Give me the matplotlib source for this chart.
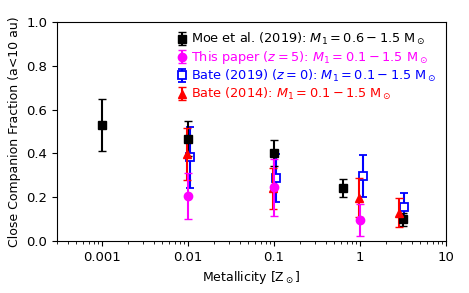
import matplotlib
matplotlib.use("Agg")
import matplotlib.pyplot as plt

# Moe et al. (2019)
moe_x = [0.001, 0.01, 0.1, 0.63, 3.2]
moe_y = [0.53, 0.467, 0.403, 0.243, 0.100]
moe_e = [0.12, 0.08, 0.06, 0.04, 0.03]

# This paper (z=5)
tp_x = [0.01, 0.1, 1.0]
tp_y = [0.207, 0.245, 0.096]
tp_e = [0.105, 0.13, 0.075]

# Bate (2019) (z=0)
b19_x = [0.0105, 0.105, 1.07, 3.25]
b19_y = [0.382, 0.289, 0.297, 0.157]
b19_e = [0.14, 0.11, 0.095, 0.06]

# Bate (2014)
b14_x = [0.0097, 0.097, 0.97, 2.86]
b14_y = [0.397, 0.24, 0.198, 0.13]
b14_e = [0.12, 0.095, 0.09, 0.067]

xticks = [0.001, 0.01, 0.1, 1, 10]
xticklabels = ["0.001", "0.01", "0.1", "1", "10"]
yticks = [0.0, 0.2, 0.4, 0.6, 0.8, 1.0]

fig = plt.figure(figsize=(4.69, 2.93), dpi=100)
ax = fig.add_axes([57/469, 52/293, 389/469, 219/293])

ax.errorbar(moe_x, moe_y, yerr=moe_e, fmt='s', color='black', ms=6, capsize=3,
            label=r'Moe et al. (2019): $M_1 = 0.6 - 1.5$ M$_\odot$', zorder=3)
ax.errorbar(tp_x, tp_y, yerr=tp_e, fmt='o', color='magenta', ms=6, capsize=3,
            label=r'This paper ($z=5$): $M_1 = 0.1 - 1.5$ M$_\odot$', zorder=4)
ax.errorbar(b19_x, b19_y, yerr=b19_e, fmt='s', color='blue', mfc='white', mew=1.3, ms=6, capsize=3,
            label=r'Bate (2019) ($z=0$): $M_1 = 0.1 - 1.5$ M$_\odot$', zorder=2)
ax.errorbar(b14_x, b14_y, yerr=b14_e, fmt='^', color='red', ms=6, capsize=3,
            label=r'Bate (2014): $M_1 = 0.1 - 1.5$ M$_\odot$', zorder=3)

ax.set_xscale('log')
ax.set_xlim(3e-4, 10)
ax.set_ylim(0, 1.0)
ax.set_xticks(xticks)
ax.set_xticklabels(xticklabels)
ax.set_yticks(yticks)
ax.tick_params(labelsize=9.5)
ax.set_xlabel(r'Metallicity [Z$_\odot$]', fontsize=9)
ax.set_ylabel('Close Companion Fraction (a<10 au)', fontsize=9)

ax.legend(loc='upper right', frameon=False, fontsize=9.3, handlelength=0.8,
          handletextpad=0.3, labelspacing=0.15, borderaxespad=0.3,
          labelcolor='linecolor')

fig.savefig('out.png', dpi=100)
